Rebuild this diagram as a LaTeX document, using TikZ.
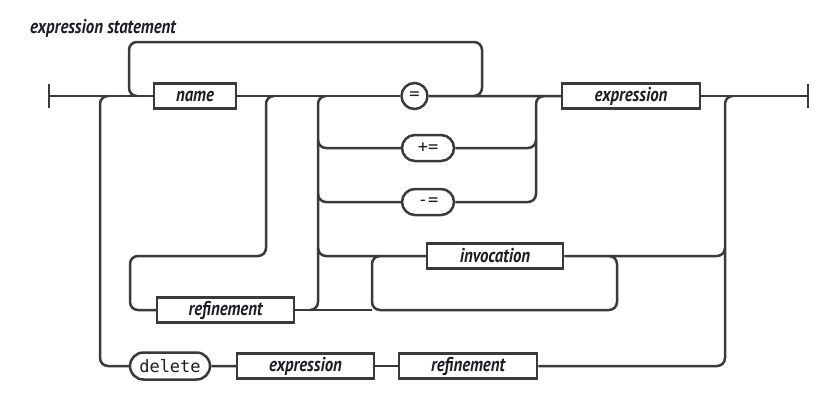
\documentclass[tikz,border=0pt]{standalone}
\usepackage{fontspec}
\usetikzlibrary{shapes.misc}
\newfontfamily\railfont[FakeStretch=0.84]{PT Sans}
\newfontfamily\railmono{DejaVu Sans Mono}
\definecolor{railline}{HTML}{3A3A3D}
\definecolor{railtext}{HTML}{1F1D24}
\tikzset{labelfont/.style={font=\railfont\bfseries\itshape\fontsize{20}{20}\selectfont}}
\begin{document}
\begin{tikzpicture}[x=1pt,y=-1pt,
  track/.style={draw=railline,line width=2.5pt,rounded corners=8pt},
  nonterm/.style={draw=railline,line width=2.5pt,fill=white,minimum height=25pt,
    inner sep=0pt,text=railtext,labelfont},
  term/.style={draw=railline,line width=2.5pt,fill=white,rounded rectangle,minimum height=26pt,
    inner sep=0pt,text=railtext,font=\railmono\fontsize{17}{17}\selectfont},
  stopbar/.style={draw=railline,line width=2.5pt}]
\useasboundingbox (0,0) rectangle (833,402);

% title
\node[anchor=base west,inner sep=0pt,text=railtext,labelfont]
  (title) at (30,33) {expression statement};

% end points
\coordinate (start) at (49,96);
\coordinate (finish) at (808,96);

% boxes and ovals
\node[nonterm,minimum width=82pt] (name) at (195,96) {name};
\node[term,minimum width=26pt] (eq) at (414.5,96) {=};
\node[term,minimum width=52pt] (pluseq) at (428,148) {+=};
\node[term,minimum width=52pt] (minuseq) at (428,202) {-=};
\node[nonterm,minimum width=138pt] (expr) at (631,96) {expression};
\node[nonterm,minimum width=136pt] (inv) at (495,256) {invocation};
\node[nonterm,minimum width=137pt] (refa) at (225.5,310) {refinement};
\node[term,minimum width=80pt,minimum height=27pt] (del) at (170,366) {delete};
\node[nonterm,minimum width=137pt] (exprb) at (305.5,366) {expression};
\node[nonterm,minimum width=138pt] (refb) at (468,366) {refinement};

% stop bars
\draw[stopbar] ([yshift=12pt]start) -- ([yshift=-12pt]start);
\draw[stopbar] ([yshift=12pt]finish) -- ([yshift=-12pt]finish);

% main line
\draw[track] (start) -- (name);
\draw[track] (name) -- (eq);
\draw[track] (eq) -- (expr);
\draw[track] (expr) -- (finish);

% loop back over name
\draw[track] (474,96) -- (482,96) -- (482,42) -- (129,42) -- (129,96) -- (137,96);

% bypass to delete
\draw[track] (108,96) -- (100,96) -- (100,366) -- (del);
\draw[track] (del) -- (exprb);
\draw[track] (exprb) -- (refb);
\draw[track] (refb) -- (725,366) -- (725,96) -- (733,96);

% refinement loop after name
\draw[track] (274,96) -- (266,96) -- (266,256) -- (130,256) -- (130,310) -- (refa);

% operator choice, left column
\draw[track] (326,96) -- (318,96) -- (318,310) -- (310,310);
\draw[track] (318,140) -- (318,148) -- (pluseq);
\draw[track] (318,194) -- (318,202) -- (minuseq);
\draw[track] (318,248) -- (318,256) -- (inv);

% operator choice, right column
\draw[track] (544,96) -- (536,96) -- (536,202) -- (minuseq);
\draw[track] (pluseq) -- (536,148) -- (536,140);

% invocation loop
\draw[track] (refa) -- (372,310);
\draw[track] (380,256) -- (372,256) -- (372,310) -- (617,310) -- (617,256) -- (609,256);
\draw[track] (inv) -- (725,256) -- (725,248);
\end{tikzpicture}
\end{document}
